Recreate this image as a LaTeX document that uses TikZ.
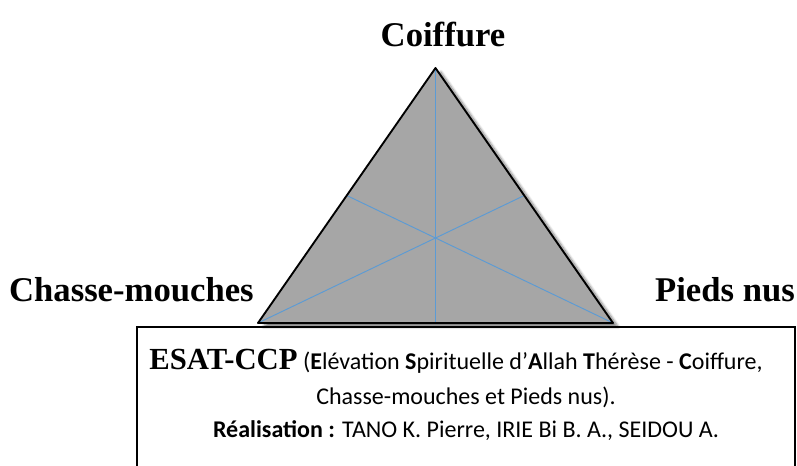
\documentclass[tikz,border=0pt]{standalone}
\usepackage{fontspec}
\setmainfont{Carlito}
\newfontfamily\headfont{Liberation Serif}
\usetikzlibrary{calc,shadows.blur}

\definecolor{medianblue}{RGB}{91,155,213}
\definecolor{trigrey}{RGB}{166,166,166}

\tikzset{
    corner/.style={font=\headfont\bfseries\fontsize{26}{30}\selectfont, inner sep=0pt},
    legendline/.style={font=\fontsize{18}{22}\selectfont, inner sep=0pt},
    median/.style={medianblue, line width=0.7pt},
}

\begin{document}
\begin{tikzpicture}[x=0.75pt, y=0.75pt]
        \useasboundingbox (0,0) rectangle (797,465);
        \clip (0,0) rectangle (797,465);

        % sommets du triangle
        \coordinate (top) at (435.5,397);
        \coordinate (left) at (258,142);
        \coordinate (right) at (613,142);

        \fill[trigrey, blur shadow={shadow xshift=4pt, shadow yshift=-3pt, shadow blur steps=8, shadow opacity=50}]
            (top) -- (left) -- (right) -- cycle;

        % medianes
        \draw[median] (top) -- ($(left)!0.5!(right)$);
        \draw[median] (left) -- ($(top)!0.5!(right)$);
        \draw[median] (right) -- ($(top)!0.5!(left)$);

        \draw[line width=1.4pt, line join=round] (top) -- (left) -- (right) -- cycle;

        % les trois sommets
        \node[corner] (coiffure) at (443,430) {Coiffure};
        \node[corner, anchor=east] (chasse) at (254,175) {Chasse-mouches};
        \node[corner] (pieds) at (725,175) {Pieds nus};

        % cadre du bas
        \draw[line width=1.4pt] (137,-10) -- (137,138) -- (795,138) -- (795,-10);

        \node[legendline] (esat) at (456,104) {{\headfont\bfseries\fontsize{23}{26}\selectfont ESAT-CCP} (\textbf{E}lévation \textbf{S}pirituelle d’\textbf{A}llah \textbf{T}hérèse - \textbf{C}oiffure,};
        \node[legendline] (suite) at (466,68) {Chasse-mouches et Pieds nus).};
        \node[legendline] (auteurs) at (466,34) {\textbf{Réalisation :} TANO K. Pierre, IRIE Bi B. A., SEIDOU A.};
\end{tikzpicture}
\end{document}
